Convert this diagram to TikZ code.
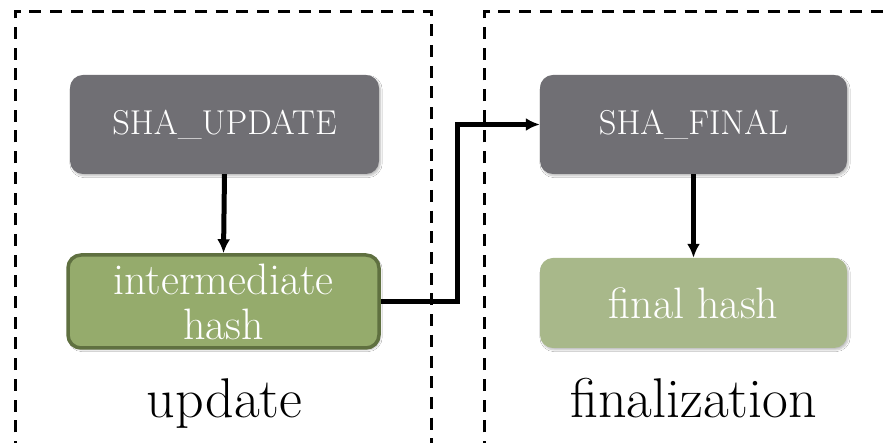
\documentclass[tikz,border=0pt]{standalone}
\usetikzlibrary{arrows.meta,shadows.blur}
\definecolor{opgray}{RGB}{112,111,116}
\definecolor{midgreen}{RGB}{149,171,108}
\definecolor{midgreenedge}{RGB}{95,112,64}
\definecolor{lightgreen}{RGB}{168,184,138}
\tikzset{
  stage/.style={draw=black, line width=3pt, dash pattern=on 12pt off 8.7pt},
  opbox/.style={rounded corners=13pt, fill=opgray, text=white,
    minimum width=309pt, minimum height=99pt, inner sep=0pt,
    font=\fontsize{34.5}{40}\selectfont,
    blur shadow={shadow xshift=1.5pt, shadow yshift=-2pt, shadow opacity=25, shadow blur steps=6}},
  valbox/.style={rounded corners=13pt, text=white, align=center,
    minimum width=307pt, inner sep=0pt,
    font=\fontsize{44}{45}\selectfont,
    blur shadow={shadow xshift=1.5pt, shadow yshift=-2pt, shadow opacity=25, shadow blur steps=6}},
  flow/.style={line width=5pt, -{Latex[length=14pt,width=13pt]}},
  phase/.style={anchor=base, font=\fontsize{56}{62}\selectfont}
}
\begin{document}
\begin{tikzpicture}[x=1pt,y=1pt]
\useasboundingbox (0,0) rectangle (884,443);
\fill[white] (0,0) rectangle (884,443);

% the two phase frames
\draw[stage] (15,-10) -- (15,431) -- (431,431) -- (431,-10);
\draw[stage] (484,-10) -- (484,431) -- (894,431);

% operations and their results
\node[opbox] (upd) at (224.5,318.5) {SHA\_UPDATE};
\node[valbox, fill=midgreen, draw=midgreenedge, line width=3.5pt,
      minimum width=311pt, minimum height=93pt] (inter) at (223.5,141.5)
      {intermediate\\hash};
\node[opbox, minimum width=307pt] (fin) at (693.5,318.5) {SHA\_FINAL};
\node[valbox, fill=lightgreen, minimum height=90pt] (fhash) at (693.5,140) {final hash};

% phase captions
\node[phase] (lupd) at (224.5,25) {update};
\node[phase] (lfin) at (693.5,25) {finalization};

% data flow
\draw[flow] (upd.south) -- (inter.north);
\draw[flow] (inter.east) -| ([xshift=-82pt]fin.west) -- (fin.west);
\draw[flow] (fin.south) -- (fhash.north);
\end{tikzpicture}
\end{document}
